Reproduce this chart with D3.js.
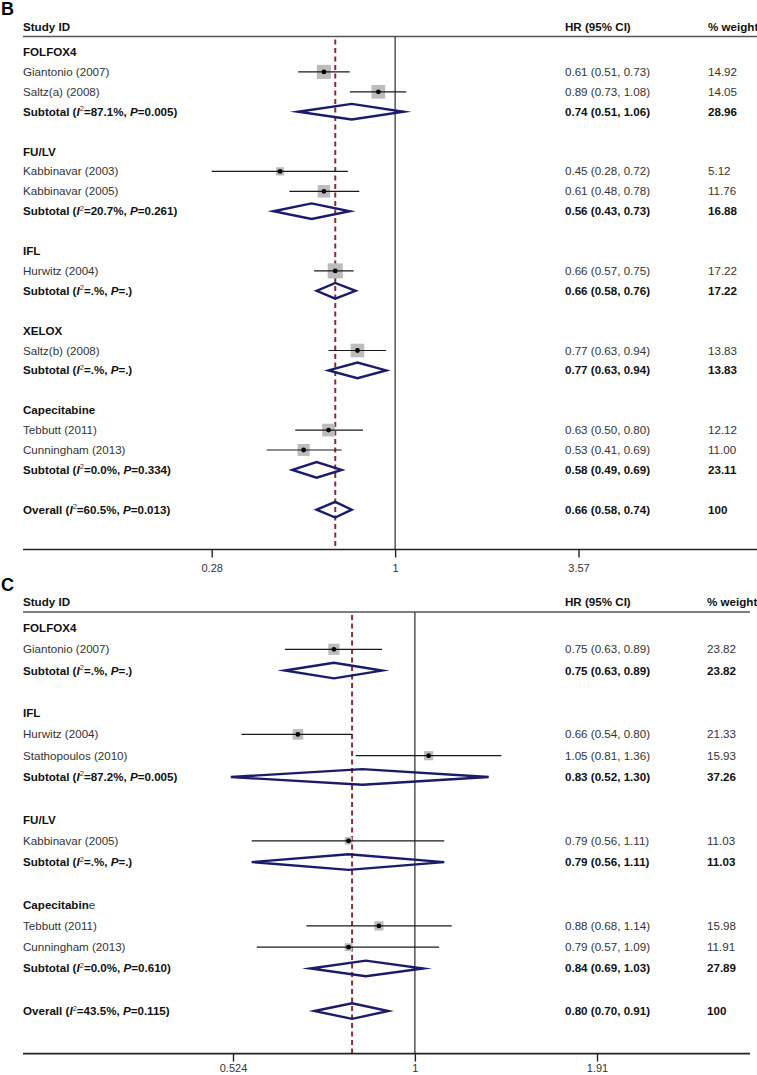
<!DOCTYPE html>
<html>
<head>
<meta charset="utf-8">
<script src="https://cdn.jsdelivr.net/npm/d3@7"></script>
<style>
html,body{margin:0;padding:0;background:#fff;}
svg{display:block;}
</style>
</head>
<body>
<svg id="chart" width="757" height="1075"></svg>
<script>
// ---------------- Panel B data ----------------
const groupsB = ["FOLFOX4", "FU/LV", "IFL", "XELOX", "Capecitabine"];
const studiesB = ["Giantonio (2007)", "Saltz(a) (2008)", "Kabbinavar (2003)", "Kabbinavar (2005)",
                  "Hurwitz (2004)", "Saltz(b) (2008)", "Tebbutt (2011)", "Cunningham (2013)"];
const studyGroupB = [0, 0, 1, 1, 2, 3, 4, 4];
const hrB = [0.61, 0.89, 0.45, 0.61, 0.66, 0.77, 0.63, 0.53];
const loB = [0.51, 0.73, 0.28, 0.48, 0.57, 0.63, 0.50, 0.41];
const hiB = [0.73, 1.08, 0.72, 0.78, 0.75, 0.94, 0.80, 0.69];
const wtB = [14.92, 14.05, 5.12, 11.76, 17.22, 13.83, 12.12, 11.00];
const subHrB = [0.74, 0.56, 0.66, 0.77, 0.58];
const subLoB = [0.51, 0.43, 0.58, 0.63, 0.49];
const subHiB = [1.06, 0.73, 0.76, 0.94, 0.69];
const subWtB = [28.96, 16.88, 17.22, 13.83, 23.11];
const subI2B = ["87.1", "20.7", ".", ".", "0.0"];
const subPB = ["0.005", "0.261", ".", ".", "0.334"];
const overallB = [0.66, 0.58, 0.74];
const overallStatB = ["60.5", "0.013"];
const ticksB = [0.28, 1, 3.57];

// ---------------- Panel C data ----------------
const groupsC = ["FOLFOX4", "IFL", "FU/LV", "Capecitabine"];
const studiesC = ["Giantonio (2007)", "Hurwitz (2004)", "Stathopoulos (2010)", "Kabbinavar (2005)",
                  "Tebbutt (2011)", "Cunningham (2013)"];
const studyGroupC = [0, 1, 1, 2, 3, 3];
const hrC = [0.75, 0.66, 1.05, 0.79, 0.88, 0.79];
const loC = [0.63, 0.54, 0.81, 0.56, 0.68, 0.57];
const hiC = [0.89, 0.80, 1.36, 1.11, 1.14, 1.09];
const wtC = [23.82, 21.33, 15.93, 11.03, 15.98, 11.91];
const subHrC = [0.75, 0.83, 0.79, 0.84];
const subLoC = [0.63, 0.52, 0.56, 0.69];
const subHiC = [0.89, 1.30, 1.11, 1.03];
const subWtC = [23.82, 37.26, 11.03, 27.89];
const subI2C = [".", "87.2", ".", "0.0"];
const subPC = [".", "0.005", ".", "0.610"];
const overallC = [0.80, 0.70, 0.91];
const overallStatC = ["43.5", "0.115"];
const ticksC = [0.524, 1, 1.91];

// ---------------- drawing ----------------
const svg = d3.select("#chart");
const FONT = "'Liberation Sans', Arial, Helvetica, sans-serif";
const GRAY = "#333333";
const NAVY = "#1b1b6b";
const MAROON = "#8a2e36";
const f2 = d3.format(".2f");

function richText(g, x, y, segs, size) {
  const t = g.append("text").attr("x", x).attr("y", y)
    .attr("font-family", FONT).attr("font-size", size);
  let raised = false;
  segs.forEach(s => {
    const ts = t.append("tspan").text(s.t)
      .attr("font-weight", s.b ? "bold" : "normal")
      .attr("font-style", s.i ? "italic" : "normal")
      .attr("fill", s.b ? "#111" : GRAY);
    if (s.sup) { ts.attr("font-size", size * 0.65).attr("dy", -4.5); raised = true; }
    else if (raised) { ts.attr("dy", 4.5); raised = false; }
  });
  return t;
}

function statSegs(prefix, i2, p) {
  return [
    {t: prefix + " (", b: true},
    {t: "I", b: true, i: true},
    {t: "2", sup: true},
    {t: "=" + i2 + "%, ", b: true},
    {t: "P", b: true, i: true},
    {t: "=" + p + ")", b: true}
  ];
}

function drawPanel(cfg) {
  const g = svg.append("g");
  const x = d3.scaleLog().domain([cfg.ticks[0], cfg.ticks[2]]).range(cfg.tickRange);
  const fs = 11.6;
  const colHR = 565, colW = cfg.colW, colL = 23;

  // build rows
  const rows = [];
  cfg.groups.forEach((grp, gi) => {
    rows.push({type: "group", label: grp, gi});
    cfg.studies.forEach((s, si) => {
      if (cfg.studyGroup[si] === gi)
        rows.push({type: "study", label: s, hr: cfg.hr[si], lo: cfg.lo[si], hi: cfg.hi[si], w: cfg.wt[si]});
    });
    rows.push({type: "sub", hr: cfg.subHr[gi], lo: cfg.subLo[gi], hi: cfg.subHi[gi], w: cfg.subWt[gi],
               i2: cfg.subI2[gi], p: cfg.subP[gi]});
    rows.push({type: "blank"});
  });
  rows.push({type: "overall", hr: cfg.overall[0], lo: cfg.overall[1], hi: cfg.overall[2], w: 100,
             i2: cfg.overallStat[0], p: cfg.overallStat[1]});
  const y = i => cfg.top + i * cfg.step;
  const axisY = y(rows.length + 1);

  // panel letter
  g.append("text").attr("x", 1).attr("y", cfg.letterY).text(cfg.letter)
    .attr("font-family", FONT).attr("font-size", 18).attr("font-weight", "bold").attr("fill", "#000");

  // header
  [[colL, "Study ID"], [colHR, "HR (95% CI)"], [colW, "% weight"]].forEach(([xx, t]) => {
    g.append("text").attr("x", xx).attr("y", cfg.headY).text(t)
      .attr("font-family", FONT).attr("font-size", fs).attr("font-weight", "bold").attr("fill", "#111");
  });
  g.append("line").attr("x1", colL).attr("x2", cfg.lineEnd).attr("y1", cfg.headLine).attr("y2", cfg.headLine)
    .attr("stroke", "#555").attr("stroke-width", 1.6);

  // null line and overall dashed line
  g.append("line").attr("x1", x(1)).attr("x2", x(1)).attr("y1", cfg.headLine).attr("y2", axisY)
    .attr("stroke", "#3a3a3a").attr("stroke-width", 1.3);
  g.append("line").attr("x1", x(cfg.overall[0])).attr("x2", x(cfg.overall[0]))
    .attr("y1", cfg.headLine + 3).attr("y2", axisY)
    .attr("stroke", MAROON).attr("stroke-width", 2).attr("stroke-dasharray", "5,3.5");

  // axis
  const axis = d3.axisBottom(x).tickValues(cfg.ticks).tickFormat(d => String(d)).tickSize(8).tickSizeOuter(0);
  const ag = g.append("g").attr("transform", `translate(0,${axisY})`).call(axis);
  ag.select(".domain").remove();
  ag.append("line").attr("x1", colL).attr("x2", cfg.lineEnd).attr("y1", 0).attr("y2", 0)
    .attr("stroke", "#222").attr("stroke-width", 1.6);
  ag.selectAll(".tick line").attr("stroke", "#222").attr("stroke-width", 1.4);
  ag.selectAll(".tick text").attr("font-family", FONT).attr("font-size", 11).attr("fill", GRAY).attr("dy", cfg.tickDy);

  rows.forEach((r, i) => {
    const yy = y(i);
    const base = yy + 4;
    if (r.type === "group") {
      if (cfg.plainLast && cfg.plainLast[r.gi]) {
        richText(g, colL, base, [{t: r.label.slice(0, -1), b: true}, {t: r.label.slice(-1)}], fs);
      } else {
        richText(g, colL, base, [{t: r.label, b: true}], fs);
      }
    } else if (r.type === "study") {
      richText(g, colL, base, [{t: r.label}], fs);
      richText(g, colHR, base, [{t: `${f2(r.hr)} (${f2(r.lo)}, ${f2(r.hi)})`}], fs);
      richText(g, colW, base, [{t: f2(r.w)}], fs);
      const side = cfg.boxK * Math.sqrt(r.w);
      g.append("rect").attr("x", x(r.hr) - side / 2).attr("y", yy - side / 2)
        .attr("width", side).attr("height", side).attr("fill", "#bcbcbc");
      g.append("line").attr("x1", x(r.lo)).attr("x2", x(r.hi)).attr("y1", yy).attr("y2", yy)
        .attr("stroke", "#1a1a1a").attr("stroke-width", 1.2);
      g.append("circle").attr("cx", x(r.hr)).attr("cy", yy).attr("r", 2.4).attr("fill", "#000");
    } else if (r.type === "sub" || r.type === "overall") {
      richText(g, colL, base, statSegs(r.type === "sub" ? "Subtotal" : "Overall", r.i2, r.p), fs);
      richText(g, colHR, base, [{t: `${f2(r.hr)} (${f2(r.lo)}, ${f2(r.hi)})`, b: true}], fs);
      richText(g, colW, base, [{t: r.type === "overall" ? "100" : f2(r.w), b: true}], fs);
      const h = 7.8;
      const pts = [[x(r.lo), yy], [x(r.hr), yy - h], [x(r.hi), yy], [x(r.hr), yy + h]];
      g.append("path").attr("d", d3.line()(pts) + "Z")
        .attr("fill", "none").attr("stroke", NAVY).attr("stroke-width", 2.4)
        .attr("stroke-linejoin", "miter").attr("stroke-miterlimit", 12);
    }
  });
}

drawPanel({
  letter: "B", letterY: 15, headY: 31, headLine: 36.5, lineEnd: 757, top: 52, step: 19.9, colW: 708,
  ticks: ticksB, tickRange: [211.7, 578.5], boxK: 3.65, tickDy: "1.05em",
  groups: groupsB, studies: studiesB, studyGroup: studyGroupB, hr: hrB, lo: loB, hi: hiB, wt: wtB,
  subHr: subHrB, subLo: subLoB, subHi: subHiB, subWt: subWtB, subI2: subI2B, subP: subPB,
  overall: overallB, overallStat: overallStatB
});

drawPanel({
  letter: "C", letterY: 591, headY: 606, headLine: 612, lineEnd: 750, top: 628, step: 21.28, colW: 707,
  ticks: ticksC, tickRange: [233, 597], boxK: 2.3, tickDy: "0.68em",
  groups: groupsC, studies: studiesC, studyGroup: studyGroupC, hr: hrC, lo: loC, hi: hiC, wt: wtC,
  subHr: subHrC, subLo: subLoC, subHi: subHiC, subWt: subWtC, subI2: subI2C, subP: subPC,
  overall: overallC, overallStat: overallStatC, plainLast: [false, false, false, true]
});
</script>
</body>
</html>
